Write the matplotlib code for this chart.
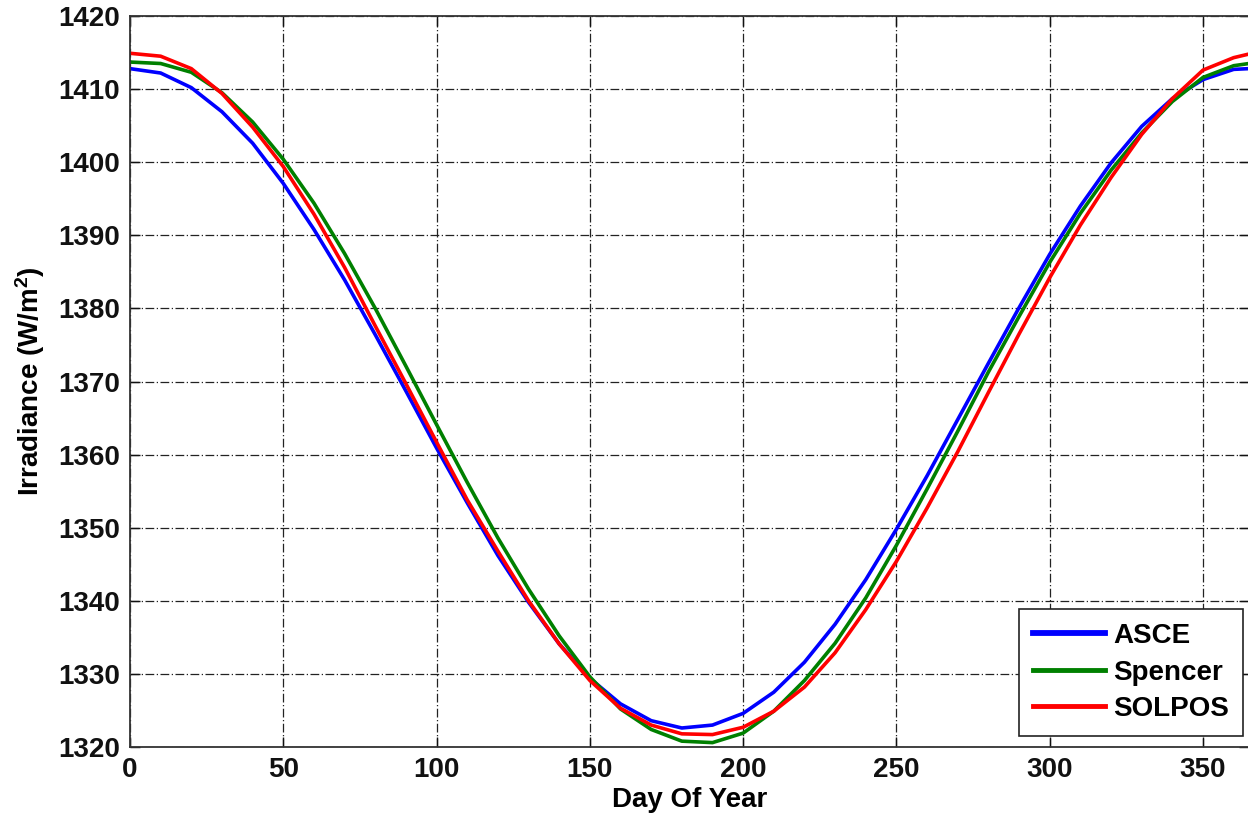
import matplotlib
matplotlib.use("Agg")
import matplotlib.pyplot as plt

plt.rcParams.update({
    "font.family": "Liberation Sans",
    "font.weight": "bold",
    "axes.labelweight": "bold",
    "font.size": 20,
    "mathtext.fontset": "custom",
    "mathtext.rm": "Liberation Sans:bold",
    "mathtext.bf": "Liberation Sans:bold",
    "mathtext.default": "bf",
})

# values, every 10 days
day = [0, 10, 20, 30, 40, 50, 60, 70, 80, 90, 100, 110, 120, 130, 140, 150,
       160, 170, 180, 190, 200, 210, 220, 230, 240, 250, 260, 270, 280, 290,
       300, 310, 320, 330, 340, 350, 360, 365]
asce = [1412.8, 1412.2, 1410.2, 1406.9, 1402.6, 1397.1, 1390.8, 1383.9, 1376.4,
        1368.7, 1360.9, 1353.4, 1346.2, 1339.8, 1334.1, 1329.4, 1325.9, 1323.6,
        1322.6, 1323.0, 1324.6, 1327.5, 1331.6, 1336.8, 1342.9, 1349.8, 1357.1,
        1364.8, 1372.5, 1380.1, 1387.4, 1394.0, 1399.9, 1404.9, 1408.7, 1411.3,
        1412.7, 1412.8]
spencer = [1413.7, 1413.5, 1412.3, 1409.5, 1405.5, 1400.4, 1394.4, 1387.5, 1380.0,
           1372.1, 1364.1, 1356.2, 1348.6, 1341.6, 1335.2, 1329.6, 1325.2, 1322.4,
           1320.8, 1320.6, 1321.9, 1324.9, 1329.1, 1334.2, 1340.4, 1347.6, 1355.3,
           1363.2, 1371.3, 1378.9, 1386.3, 1393.0, 1398.9, 1404.0, 1408.3, 1411.6,
           1413.2, 1413.5]
solpos = [1414.9, 1414.5, 1412.8, 1409.4, 1404.8, 1399.4, 1392.9, 1385.6, 1377.6,
          1369.7, 1361.7, 1353.8, 1346.8, 1340.0, 1334.1, 1329.1, 1325.3, 1323.0,
          1321.8, 1321.7, 1322.7, 1324.9, 1328.2, 1332.9, 1338.8, 1345.4, 1352.7,
          1360.4, 1368.5, 1376.5, 1384.2, 1391.4, 1397.9, 1403.8, 1408.7, 1412.6,
          1414.3, 1414.8]

series = [("ASCE", asce, "#0000ff"),
          ("Spencer", spencer, "#008000"),
          ("SOLPOS", solpos, "#ff0000")]
xticks = [0, 50, 100, 150, 200, 250, 300, 350]
yticks = list(range(1320, 1421, 10))

fig = plt.figure(figsize=(12.48, 8.23), dpi=100)
ax = fig.add_axes([130 / 1248, 76 / 823, 1119 / 1248, 731 / 823])

for name, vals, col in series:
    ax.plot(day, vals, color=col, lw=2.6, label=name)

ax.set_xlim(0, 365)
ax.set_ylim(1320, 1420)
ax.set_xticks(xticks)
ax.set_yticks(yticks)
ax.tick_params(direction="in", length=7, width=1, top=True, right=True,
               labelsize=20, pad=7, colors="#111111")
for s in ax.spines.values():
    s.set_color("#333333")
    s.set_linewidth(1.3)
ax.grid(True, color="#222222", lw=0.9, linestyle=(0, (7, 2, 1, 2)))
ax.set_axisbelow(True)

ax.set_xlabel("Day Of Year", fontsize=20, fontweight="bold", labelpad=3)
ax.set_ylabel("Irradiance (W/m$^{2}$)", fontsize=20, fontweight="bold",
              labelpad=8)

leg = ax.legend(loc="lower right", bbox_to_anchor=(0.9946, 0.015),
                borderaxespad=0, fontsize=20, fancybox=False, framealpha=1,
                edgecolor="#222222", handlelength=2.6, handletextpad=0.3,
                labelspacing=0.38, borderpad=0.5)
leg.get_frame().set_linewidth(1.2)
for ln, w in zip(leg.get_lines(), [4.2, 3.5, 3.5]):
    ln.set_linewidth(w)

fig.savefig("out.png", dpi=100)
